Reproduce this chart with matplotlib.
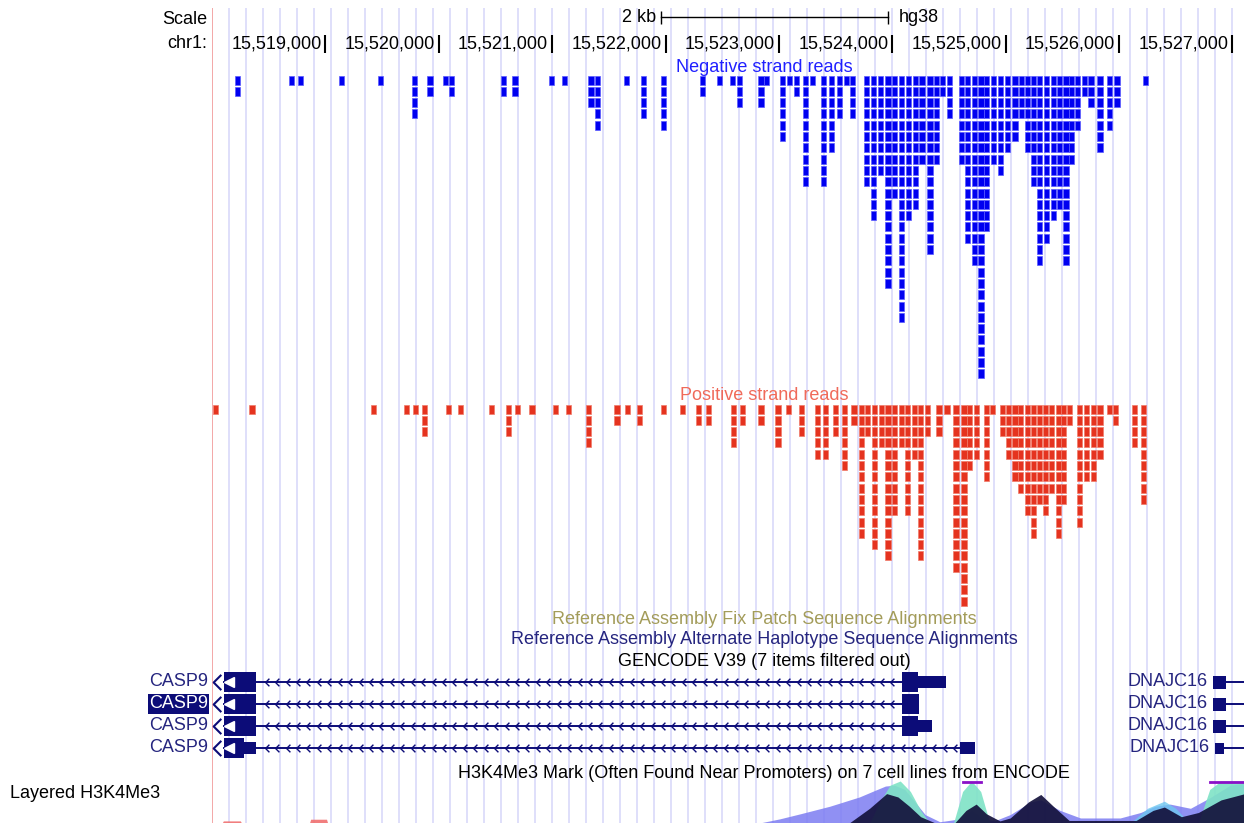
import numpy as np
import matplotlib.pyplot as plt
from matplotlib.path import Path

plt.rcParams['font.family'] = ['Liberation Sans', 'DejaVu Sans']

W, H = 1244, 823
X0 = 15518000          # left edge of the browser window (chr1)
BP_PER_PX = 8.82
X1 = X0 + (W - 212) * BP_PER_PX

# ---- reads: start (bp offset from X0) and how many reads stack in that column
neg_start = [200, 680, 760, 1120, 1460, 1760, 1900, 2040, 2090, 2550, 2650, 2970, 3090,
             3320, 3380, 3630, 3780, 3960, 4300, 4450, 4570, 4630, 4820, 4870,
             5010, 5070, 5130, 5210, 5270, 5370, 5440, 5510, 5570, 5630,
             5750, 5810, 5870, 5940, 6000, 6060, 6120, 6180, 6240, 6310, 6370, 6420, 6480,
             6590, 6640, 6700, 6760, 6810, 6870, 6930, 6990, 7060,
             7120, 7170, 7220, 7280, 7340, 7400, 7450, 7510, 7560, 7610,
             7670, 7730, 7810, 7890, 7960, 8210]
neg_count = [2, 1, 1, 1, 1, 4, 2, 1, 2, 2, 2, 1, 1,
             3, 5, 1, 4, 5, 2, 1, 1, 3, 3, 1,
             6, 1, 2, 10, 1, 10, 7, 4, 1, 4,
             10, 13, 9, 19, 11, 22, 13, 12, 8, 16, 8, 2, 4,
             8, 15, 17, 27, 14, 8, 9, 7, 6,
             4, 7, 10, 17, 15, 13, 12, 17, 8, 5,
             2, 3, 7, 5, 3, 1]

pos_start = [10, 330, 1400, 1690, 1770, 1850, 2060, 2170, 2440, 2590, 2670, 2800, 3010,
             3120, 3300, 3550, 3640, 3750, 3960, 4130, 4270, 4360, 4580, 4660, 4820,
             4970, 5060, 5180, 5320, 5390, 5480, 5560,
             5640, 5710, 5760, 5820, 5880, 5940, 6000, 6060, 6110, 6170, 6230, 6290,
             6390, 6460, 6540, 6610, 6660, 6720, 6810, 6860,
             6950, 7000, 7060, 7110, 7170, 7220, 7280, 7330, 7380, 7440, 7490, 7540,
             7630, 7690, 7750, 7810, 7890, 7950, 8110, 8190]
pos_count = [1, 1, 1, 1, 1, 3, 1, 1, 1, 3, 1, 1, 1,
             1, 4, 2, 1, 2, 1, 1, 2, 2, 4, 2, 2,
             4, 1, 3, 5, 5, 3, 6,
             2, 12, 3, 13, 4, 14, 10, 4, 10, 5, 14, 3,
             3, 1, 15, 18, 6, 5, 7, 1,
             3, 5, 7, 8, 10, 12, 9, 10, 8, 12, 9, 2,
             11, 7, 7, 5, 1, 2, 4, 9]

# ---- GENCODE transcripts (bp offsets from X0)
casp9_names = ['CASP9', 'CASP9', 'CASP9', 'CASP9']
casp9_left_cds = [(110, 390), (110, 390), (110, 390), (110, 280)]
casp9_left_utr = [None, None, None, (280, 390)]
casp9_right_cds = [(6090, 6230), (6090, 6240), (6090, 6230), None]
casp9_right_utr = [(6230, 6470), None, (6230, 6350), (6600, 6730)]
dnajc16_block = [(8830, 8940), (8830, 8940), (8830, 8940), (8850, 8930)]

# ---- H3K4Me3 layered signal (bp offsets, fraction of track height)
lav_pos = [4830, 5010, 5190, 5450, 5710, 5850, 5940, 6020, 6110, 6200, 6290, 6420,
           6600, 6700, 6800, 6900, 7040, 7220, 7310, 7480, 7660, 8010, 8190, 8320,
           8450, 8630, 8800, 8980, 9110]
lav_val = [0.0, 0.1, 0.22, 0.4, 0.62, 0.78, 0.88, 0.9, 0.8, 0.5, 0.2, 0.03,
           0.1, 0.3, 0.1, 0.05, 0.2, 0.5, 0.55, 0.3, 0.12, 0.12, 0.25, 0.4,
           0.45, 0.35, 0.6, 0.9, 0.95]
teal_pos = [5800, 5890, 5980, 6070, 6160, 6250, 6330, 6540, 6620, 6700, 6780, 6860,
            8700, 8800, 8900, 9110]
teal_val = [0.0, 0.5, 0.9, 1.0, 0.75, 0.3, 0.0, 0.0, 0.75, 1.0, 0.75, 0.0,
            0.0, 0.8, 1.0, 1.0]
cyan_pos = [8100, 8250, 8400, 8500, 8620]
cyan_val = [0.0, 0.35, 0.52, 0.35, 0.0]
dark_pos = [5620, 5800, 5950, 6050, 6150, 6250, 6380, 6550, 6650, 6740, 6830, 6950,
            7040, 7200, 7310, 7420, 7560, 8150, 8300, 8400, 8550, 8700, 8900, 9110]
dark_val = [0.0, 0.35, 0.7, 0.62, 0.4, 0.15, 0.0, 0.0, 0.3, 0.45, 0.22, 0.05,
            0.12, 0.5, 0.68, 0.4, 0.06, 0.06, 0.3, 0.38, 0.15, 0.25, 0.55, 0.7]
red_pos = [90, 100, 250, 260, 860, 870, 1010, 1020]
red_val = [0.0, 0.05, 0.05, 0.0, 0.0, 0.09, 0.09, 0.0]
clip_marks = [(6620, 6780), (8800, 9110)]

ROW = 11.3
READ_H = 9
READ_LEN = 45

fig = plt.figure(figsize=(W / 100, H / 100), dpi=100)
ax = fig.add_axes([212 / W, 0, 1 - 212 / W, 1])
ax.set_xlim(X0, X1)
ax.set_ylim(H, 0)
ax.set_axis_off()


def fx(px):
    return px / W


def fy(py):
    return 1 - py / H


# guide lines
ax.vlines(np.arange(X0 + 150, X1, 150), 8, H, color='#dcdcfa', lw=1.3, zorder=0)
ax.vlines(X0, 8, H, color='#f2a0a0', lw=1.3, zorder=0)

# scale + ruler
fig.text(fx(207), fy(19), 'Scale', ha='right', va='center', fontsize=13)
fig.text(fx(207), fy(44), 'chr1:', ha='right', va='center', fontsize=13)
bar0, bar1 = X0 + 3960, X0 + 5960
ax.plot([bar0, bar1], [17, 17], color='black', lw=1)
ax.vlines([bar0, bar1], 11, 24, color='black', lw=1)
ax.text(bar0 - 40, 17, '2 kb', ha='right', va='center', fontsize=13)
ax.text(bar1 + 100, 17, 'hg38', ha='left', va='center', fontsize=13)
for p in range(15519000, 15527001, 1000):
    ax.vlines(p, 35, 53, color='black', lw=1.5)
    ax.text(p - 35, 44, f'{p:,}', ha='right', va='center', fontsize=13)


def draw_reads(starts, counts, top, color, edge):
    xs, ys = [], []
    for s, n in zip(starts, counts):
        for r in range(n):
            xs.append(X0 + s)
            ys.append(top + r * ROW)
    ax.bar(xs, READ_H, width=READ_LEN, bottom=ys, align='edge',
           color=color, edgecolor=edge, linewidth=0.5, zorder=2)


ax.text(X0 + 4870, 67, 'Negative strand reads', ha='center', va='center', fontsize=13, color='#2020ff')
draw_reads(neg_start, neg_count, 75.5, '#0000f0', '#5a5aff')
ax.text(X0 + 4870, 395, 'Positive strand reads', ha='center', va='center', fontsize=13, color='#f06a5a')
draw_reads(pos_start, pos_count, 404.5, '#e5331f', '#f07a6a')

ax.text(X0 + 4870, 619, 'Reference Assembly Fix Patch Sequence Alignments',
        ha='center', va='center', fontsize=13, color='#a39c5a')
ax.text(X0 + 4870, 640, 'Reference Assembly Alternate Haplotype Sequence Alignments',
        ha='center', va='center', fontsize=13, color='#25257f')
ax.text(X0 + 4870, 661, 'GENCODE V39 (7 items filtered out)',
        ha='center', va='center', fontsize=13, color='black')

# genes
NAVY = '#0c0c78'
chev = Path([(0.5, 1), (-0.5, 0), (0.5, -1)], [Path.MOVETO, Path.LINETO, Path.LINETO])
gene_y = [682, 704, 726, 748]


def block(span, yc, h):
    ax.bar(X0 + span[0], h, width=span[1] - span[0], bottom=yc - h / 2,
           align='edge', color=NAVY, lw=0, zorder=3)


for i, yc in enumerate(gene_y):
    right = casp9_right_cds[i] or casp9_right_utr[i]
    ax.plot([X0 + casp9_left_cds[i][0], X0 + right[0]], [yc, yc], color=NAVY, lw=1.4, zorder=3)
    cx = np.arange(X0 + casp9_left_utr[i][1] if casp9_left_utr[i] else X0 + casp9_left_cds[i][1],
                   X0 + right[0] - 40, 92)[1:]
    ax.plot(cx, np.full(len(cx), yc), ls='none', marker=chev, ms=5.5, mfc='none',
            mec=NAVY, mew=1.0, zorder=3)
    block(casp9_left_cds[i], yc, 20)
    if casp9_left_utr[i]:
        block(casp9_left_utr[i], yc, 12)
    if casp9_right_cds[i]:
        block(casp9_right_cds[i], yc, 20)
    if casp9_right_utr[i]:
        block(casp9_right_utr[i], yc, 12)
    ax.plot(X0 + 45, yc, marker=chev, ms=11, mfc='none', mec=NAVY, mew=1.5, zorder=3)
    ax.plot(X0 + 150, yc, marker='<', ms=7, mfc='white', mec='white', zorder=4)
    if i == 1:
        fig.text(fx(208), fy(yc), casp9_names[i], ha='right', va='center', fontsize=13,
                 color='white', bbox=dict(boxstyle='square,pad=0.08', fc=NAVY, ec='none'))
    else:
        fig.text(fx(208), fy(yc), casp9_names[i], ha='right', va='center', fontsize=13, color='#25257f')
    b = dnajc16_block[i]
    ax.plot([X0 + b[1], X1], [yc, yc], color=NAVY, lw=1.4, zorder=3)
    block(b, yc, 13 if i < 3 else 11)
    ax.text(X0 + b[0] - 50, yc, 'DNAJC16', ha='right', va='center', fontsize=13, color='#25257f')

# H3K4Me3 layered track
ax.text(X0 + 4870, 773, 'H3K4Me3 Mark (Often Found Near Promoters) on 7 cell lines from ENCODE',
        ha='center', va='center', fontsize=13, color='black')
fig.text(fx(10), fy(793), 'Layered H3K4Me3', ha='left', va='center', fontsize=13)
BASE, TRACK_H = 823, 42
for pos, val, col, a in [(lav_pos, lav_val, '#7d7df2', 0.85),
                         (teal_pos, teal_val, '#7fe3c6', 0.9),
                         (cyan_pos, cyan_val, '#6ec8f0', 0.8),
                         (red_pos, red_val, '#f07070', 0.9),
                         (dark_pos, dark_val, '#14123c', 0.92)]:
    p = X0 + np.array(pos)
    ax.fill_between(p, BASE, BASE - np.array(val) * TRACK_H, color=col, alpha=a, lw=0, zorder=2)
for a0, a1 in clip_marks:
    ax.plot([X0 + a0, X0 + a1], [BASE - TRACK_H + 0.5] * 2, color='#8a10c8', lw=2, zorder=3)

fig.savefig('out.png', dpi=100, facecolor='white')
